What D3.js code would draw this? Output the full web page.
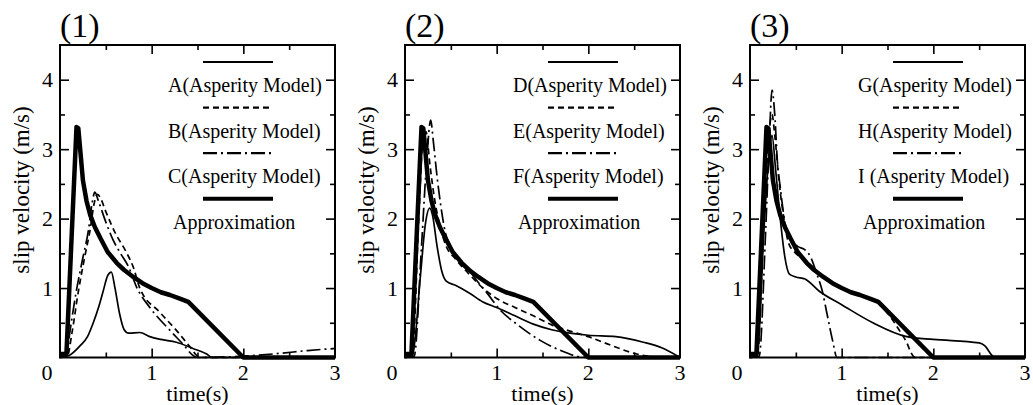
<!DOCTYPE html>
<html>
<head>
  <meta charset="utf-8">
  <title>Slip velocity - asperity models</title>
  <style>
    body {
      margin: 0;
      background: #fff;
    }
    svg {
      font-family: "Liberation Serif", "DejaVu Serif", serif;
    }
    .frame {
      fill: none;
      stroke: #000;
      stroke-width: 2;
    }
    .tick line {
      stroke: #000;
      stroke-width: 1.6;
    }
    .curve {
      fill: none;
      stroke: #000;
      stroke-linejoin: round;
    }
  </style>
</head>
<body>
  <script src="https://d3js.org/d3.v7.min.js"></script>
  <script>
    // panel titles and legend labels
    const panelTitles = ["(1)", "(2)", "(3)"];
    const legendLabels = [
      ["A(Asperity Model)", "B(Asperity Model)", "C(Asperity Model)", "Approximation"],
      ["D(Asperity Model)", "E(Asperity Model)", "F(Asperity Model)", "Approximation"],
      ["G(Asperity Model)", "H(Asperity Model)", "I (Asperity Model)", "Approximation"]
    ];

    const xTickLabels = [1, 2, 3];
    const yTickLabels = [1, 2, 3, 4];

    // [time (s), slip velocity (m/s)]
    const approx = [[0, 0.05], [0.07, 0.05], [0.18, 3.32], [0.2, 3.3], [0.22, 3.0], [0.25, 2.55],
      [0.29, 2.25], [0.33, 2.05], [0.38, 1.88], [0.44, 1.72], [0.52, 1.52], [0.62, 1.36], [0.7, 1.26],
      [0.8, 1.16], [0.9, 1.07], [1.0, 1.0], [1.1, 0.94], [1.2, 0.9], [1.3, 0.85], [1.4, 0.8],
      [2.0, 0], [3.0, 0]];

    const seriesA = [[0, 0], [0.1, 0.03], [0.22, 0.17], [0.3, 0.3], [0.36, 0.49], [0.42, 0.72], [0.47, 0.95],
      [0.52, 1.18], [0.56, 1.23], [0.6, 1.0], [0.65, 0.63], [0.7, 0.4], [0.75, 0.35], [0.87, 0.36],
      [0.98, 0.3], [1.1, 0.26], [1.27, 0.22], [1.45, 0.13], [1.6, 0.05], [1.66, 0], [3, 0]];
    const seriesB = [[0, 0], [0.08, 0.02], [0.13, 0.35], [0.2, 0.95], [0.27, 1.45], [0.33, 1.85], [0.37, 2.2],
      [0.41, 2.35], [0.44, 2.3], [0.5, 2.1], [0.6, 1.8], [0.73, 1.5], [0.8, 1.3], [0.87, 1.0],
      [1.09, 0.65], [1.27, 0.39], [1.42, 0.15], [1.5, 0.02], [1.55, 0], [3, 0]];
    const seriesC = [[0, 0], [0.07, 0.03], [0.11, 0.39], [0.18, 0.97], [0.25, 1.44], [0.31, 1.83], [0.35, 2.22],
      [0.38, 2.38], [0.42, 2.25], [0.5, 1.95], [0.58, 1.69], [0.66, 1.5], [0.75, 1.3], [0.84, 1.0],
      [0.98, 0.72], [1.2, 0.39], [1.35, 0.18], [1.45, 0.03], [1.5, 0], [2.0, 0.02], [2.4, 0.06],
      [2.7, 0.1], [3, 0.13]];

    const seriesD = [[0, 0], [0.08, 0.02], [0.17, 1.2], [0.22, 1.9], [0.27, 2.15], [0.3, 2.05], [0.35, 1.6],
      [0.4, 1.25], [0.45, 1.1], [0.55, 1.04], [0.7, 0.93], [0.85, 0.8], [1.0, 0.72], [1.2, 0.6],
      [1.4, 0.48], [1.6, 0.4], [1.8, 0.35], [2.0, 0.32], [2.3, 0.3], [2.6, 0.22], [2.8, 0.14], [3, 0]];
    const seriesE = [[0, 0], [0.08, 0.02], [0.15, 2.0], [0.2, 3.2], [0.23, 3.25], [0.27, 2.8], [0.32, 2.3],
      [0.38, 1.9], [0.45, 1.6], [0.55, 1.42], [0.7, 1.2], [0.85, 1.0], [1.0, 0.85], [1.2, 0.72],
      [1.4, 0.6], [1.6, 0.47], [1.8, 0.38], [2.0, 0.3], [2.2, 0.2], [2.5, 0.06], [2.7, 0.01], [3, 0]];
    const seriesF = [[0, 0], [0.1, 0.02], [0.18, 1.6], [0.24, 2.9], [0.28, 3.42], [0.31, 3.1], [0.35, 2.6],
      [0.4, 2.1], [0.44, 1.8], [0.5, 1.6], [0.6, 1.4], [0.7, 1.25], [0.8, 1.08], [0.9, 0.92],
      [1.04, 0.68], [1.2, 0.5], [1.47, 0.25], [1.7, 0.1], [1.9, 0.01], [2.0, 0], [3, 0]];

    const seriesG = [[0, 0], [0.08, 0.02], [0.15, 1.8], [0.2, 2.8], [0.24, 3.2], [0.28, 2.7], [0.33, 2.0],
      [0.38, 1.45], [0.43, 1.2], [0.5, 1.16], [0.6, 1.13], [0.76, 0.95], [1.0, 0.76], [1.34, 0.5],
      [1.71, 0.3], [2.0, 0.26], [2.5, 0.21], [2.56, 0.17], [2.65, 0.02], [2.7, 0], [3, 0]];
    const seriesH = [[0, 0], [0.08, 0.02], [0.15, 1.9], [0.2, 3.1], [0.24, 3.5], [0.27, 3.2], [0.32, 2.5],
      [0.37, 2.0], [0.42, 1.65], [0.5, 1.5], [0.6, 1.4], [0.7, 1.28], [0.8, 1.16], [1.0, 1.0],
      [1.2, 0.9], [1.4, 0.78], [1.55, 0.55], [1.63, 0.39], [1.7, 0.24], [1.78, 0.02], [1.8, 0], [3, 0]];
    const seriesI = [[0, 0], [0.1, 0.02], [0.17, 1.8], [0.21, 3.1], [0.24, 3.85], [0.27, 3.5], [0.3, 2.8],
      [0.33, 2.45], [0.38, 1.95], [0.44, 1.7], [0.52, 1.6], [0.6, 1.55], [0.66, 1.45], [0.73, 1.2],
      [0.79, 0.95], [0.84, 0.63], [0.9, 0.25], [0.95, 0], [3, 0]];

    const panelSeries = [
      [seriesA, seriesB, seriesC, approx],
      [seriesD, seriesE, seriesF, approx],
      [seriesG, seriesH, seriesI, approx]
    ];

    // solid, dashed, dash-dot, thick
    const styles = [
      { width: 1.7, dash: null, curve: d3.curveMonotoneX },
      { width: 1.7, dash: "6,4", curve: d3.curveMonotoneX },
      { width: 1.7, dash: "14,4,2,4", curve: d3.curveMonotoneX },
      { width: 4.5, dash: null, curve: d3.curveLinear }
    ];

    const width = 1033;
    const height = 405;
    const panelLeft = [60, 405, 750];
    const plotW = 275;
    const plotTop = 45;
    const plotBottom = 357.5;
    const innerH = plotBottom - plotTop;

    const svg = d3.select("body")
      .append("svg")
      .attr("width", width)
      .attr("height", height);

    const x = d3.scaleLinear().domain([0, 3]).range([0, plotW]);
    const y = d3.scaleLinear().domain([0, 4.5]).range([innerH, 0]);

    const xMajor = [1, 2];
    const xMinor = [0.5, 1.5, 2.5];
    const yMajor = [1, 2, 3, 4];
    const yMinor = [0.5, 1.5, 2.5, 3.5];

    panelTitles.forEach((title, i) => {
      const g = svg.append("g")
        .attr("transform", `translate(${panelLeft[i]},${plotTop})`);

      // inward ticks on all four sides
      const tickSets = [
        [d3.axisBottom(x), `translate(0,${innerH})`, xMajor, xMinor],
        [d3.axisTop(x), "translate(0,0)", xMajor, xMinor],
        [d3.axisLeft(y), "translate(0,0)", yMajor, yMinor],
        [d3.axisRight(y), `translate(${plotW},0)`, yMajor, yMinor]
      ];
      tickSets.forEach(([axis, tr, major, minor]) => {
        [[major, 9], [minor, 5]].forEach(([vals, len]) => {
          const a = g.append("g")
            .attr("transform", tr)
            .call(axis.tickValues(vals).tickSize(-len).tickFormat(""));
          a.select(".domain").remove();
        });
      });

      g.append("rect")
        .attr("class", "frame")
        .attr("width", plotW)
        .attr("height", innerH);

      // curves
      panelSeries[i].forEach((s, k) => {
        const line = d3.line()
          .x(d => x(d[0]))
          .y(d => y(d[1]))
          .curve(styles[k].curve);
        g.append("path")
          .attr("class", "curve")
          .attr("d", line(s))
          .attr("stroke-width", styles[k].width)
          .attr("stroke-dasharray", styles[k].dash);
      });

      // legend
      legendLabels[i].forEach((lab, k) => {
        const ly = 17 + k * 45.6;
        g.append("line")
          .attr("x1", 143).attr("x2", 213)
          .attr("y1", ly).attr("y2", ly)
          .attr("stroke", "#000")
          .attr("stroke-width", styles[k].width === 4.5 ? 4 : 2.2)
          .attr("stroke-dasharray", styles[k].dash);
        g.append("text")
          .attr("x", k === 3 ? 113 : 108)
          .attr("y", ly + 30)
          .attr("font-size", 20)
          .text(lab);
      });

      // tick labels
      g.selectAll(".xlab")
        .data(xTickLabels)
        .enter()
        .append("text")
        .attr("x", d => x(d))
        .attr("y", innerH + 22)
        .attr("text-anchor", "middle")
        .attr("font-size", 22)
        .text(d => d);

      g.append("text")
        .attr("x", -13)
        .attr("y", innerH + 22)
        .attr("text-anchor", "middle")
        .attr("font-size", 22)
        .text("0");

      g.selectAll(".ylab")
        .data(yTickLabels)
        .enter()
        .append("text")
        .attr("x", -7)
        .attr("y", d => y(d) + 7.5)
        .attr("text-anchor", "end")
        .attr("font-size", 22)
        .text(d => d);

      // axis titles
      g.append("text")
        .attr("x", plotW / 2)
        .attr("y", innerH + 43)
        .attr("text-anchor", "middle")
        .attr("font-size", 22)
        .text("time(s)");

      g.append("text")
        .attr("transform", `translate(-31,145) rotate(-90)`)
        .attr("text-anchor", "middle")
        .attr("font-size", 23)
        .text("slip velocity (m/s)");

      g.append("text")
        .attr("x", 0)
        .attr("y", -8)
        .attr("font-size", 34)
        .text(title);
    });
  </script>
</body>
</html>
